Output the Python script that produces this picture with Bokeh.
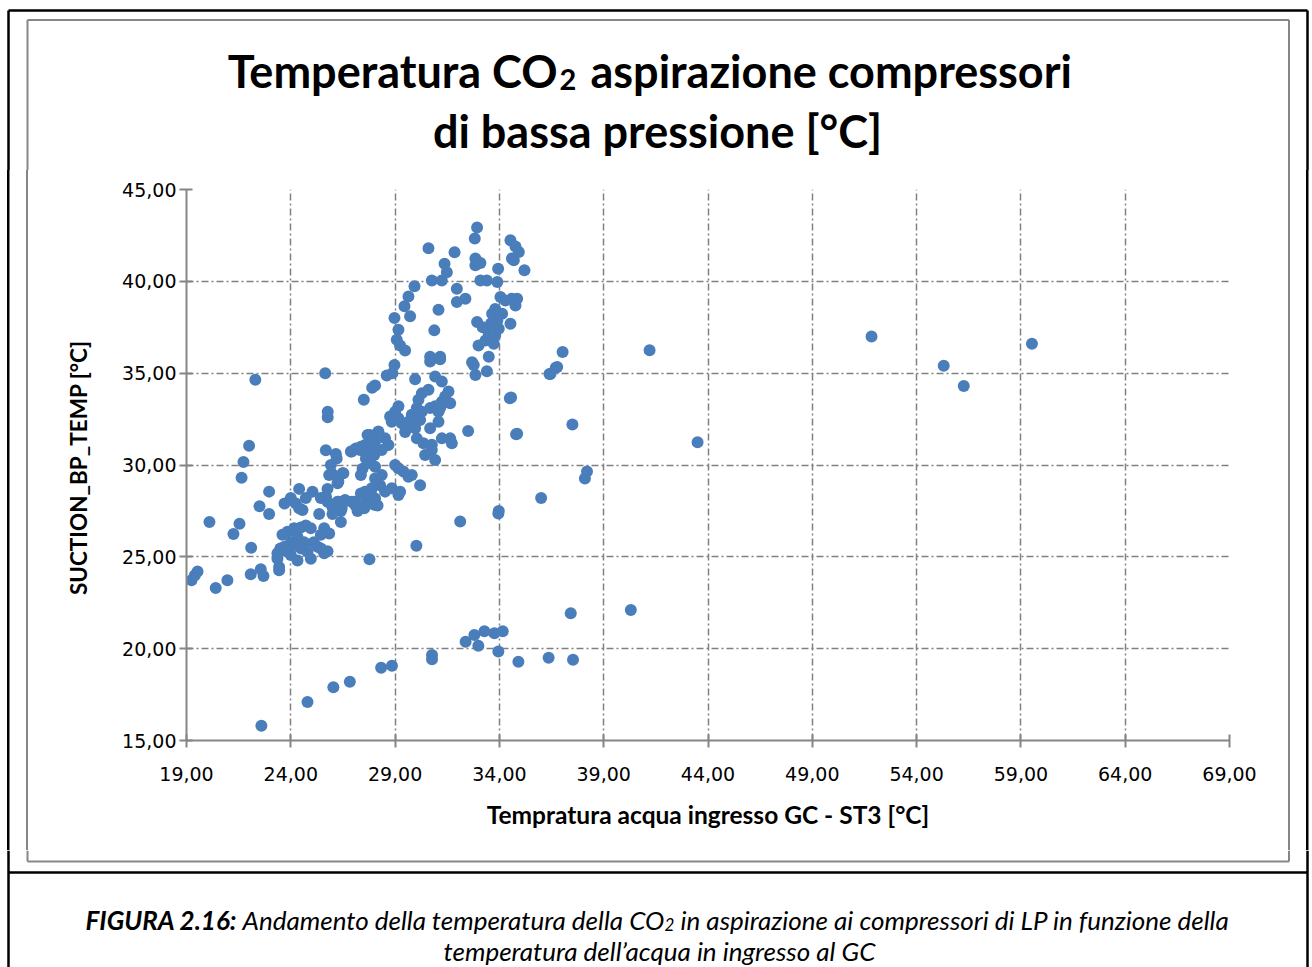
from bokeh.plotting import figure
from bokeh.layouts import column, row
from bokeh.models import Range1d, FixedTicker, CustomJSTickFormatter, ColumnDataSource
from bokeh.core.properties import value
from bokeh.embed import file_html
from bokeh.resources import INLINE

# ---------------- data ----------------
x_ticks = [19, 24, 29, 34, 39, 44, 49, 54, 59, 64, 69]
y_ticks = [15, 20, 25, 30, 35, 40, 45]

# lower-left part of the main band
band_low_x = [22.0, 21.73, 21.64, 22.96, 22.5, 22.96, 20.1, 21.54, 21.25, 22.1, 19.53, 19.4, 19.24,
              20.4, 20.96, 22.08, 22.56, 22.69, 23.44, 23.44, 23.36, 23.36, 23.5, 23.6, 23.84, 24.16,
              24.32, 24.48, 24.72, 24.96, 24.0, 24.24, 24.64, 25.1, 25.28, 25.44, 25.6, 25.84, 25.6,
              25.76, 24.32, 23.7, 23.84, 24.0, 24.5, 24.8, 24.96, 25.44, 23.7, 24.0, 24.4, 24.24, 24.56,
              24.72, 25.04, 24.4, 25.44, 25.68, 25.76, 25.84, 25.92, 25.76, 26.0, 26.0, 26.24, 26.48,
              26.4, 26.4, 26.24, 25.36, 25.68, 26.16, 27.77, 27.2, 22.3, 25.65, 25.77, 25.77,
              26.56, 27.04, 27.36, 27.52, 27.68, 27.84, 28.0, 28.16, 27.36, 27.44, 27.36, 26.88, 27.12,
              27.36, 27.6, 27.76, 27.84, 27.68, 27.84, 28.0, 28.16]
band_low_y = [31.05, 30.16, 29.3, 28.55, 27.76, 27.33, 26.9, 26.8, 26.24, 25.5, 24.2, 24.0, 23.73,
              23.3, 23.73, 24.05, 24.33, 23.96, 24.45, 24.27, 24.9, 25.2, 25.45, 26.2, 26.36, 26.55,
              26.1, 26.6, 26.7, 26.55, 25.8, 25.6, 25.8, 25.8, 25.55, 26.2, 26.55, 26.27, 25.2,
              25.3, 24.8, 25.55, 25.27, 25.1, 25.45, 25.27, 24.9, 25.45, 27.9, 28.2, 28.7, 27.9, 27.55,
              28.2, 28.55, 27.64, 28.2, 28.3, 28.7, 29.45, 30.0, 28.0, 27.7, 27.33, 28.0, 29.55,
              27.5, 26.9, 29.0, 27.33, 30.8, 30.6, 24.87, 27.5, 34.64, 35.0, 32.9, 32.6,
              28.0, 28.0, 27.8, 27.64, 28.2, 28.45, 28.0, 27.8, 29.45, 29.8, 28.45, 30.73, 30.9,
              31.0, 30.36, 30.64, 30.09, 31.64, 31.27, 30.55, 30.82]

# middle part of the main band
band_mid_x = [30.68, 31.16, 28.97, 28.6, 28.87, 28.04, 27.9, 27.5, 29.96, 32.77, 32.85, 33.4,
              34.56, 34.85, 32.5, 33.97,
              31.56, 31.64, 31.4, 30.92, 31.24, 30.6, 30.28, 30.12, 30.04, 30.28, 29.8, 29.64, 29.88,
              30.2, 30.68, 30.92, 31.16, 31.24, 31.08,
              29.16, 29.0, 28.76, 28.84, 29.16, 29.32, 29.56, 29.96, 30.04, 29.48,
              30.68, 31.08, 30.76, 31.24, 31.64, 31.72, 30.44, 30.76, 30.92, 30.36,
              27.8, 28.2, 28.52, 28.04, 28.36, 28.68, 27.88, 27.56, 27.32, 26.92, 27.72,
              29.0, 29.16, 29.4, 29.64, 29.8, 30.2,
              28.04, 28.36, 28.04, 28.28, 27.88, 27.56, 27.72, 28.04, 28.84, 29.16, 29.24, 28.52,
              26.92, 26.6, 26.28, 26.44, 27.08, 27.4, 27.8, 28.04,
              26.2, 26.52, 26.28, 25.96]
band_mid_y = [35.64, 35.76, 35.45, 34.87, 35.0, 34.33, 34.2, 33.55, 34.67, 35.45, 34.9, 35.1,
              33.67, 31.7, 31.85, 27.5,
              34.0, 33.36, 33.73, 34.82, 34.55, 34.1, 33.9, 33.55, 33.1, 32.9, 32.73, 32.36, 32.18,
              32.45, 33.1, 33.2, 33.1, 33.45, 32.9,
              33.2, 32.9, 32.64, 32.36, 32.55, 32.27, 32.0, 32.0, 31.45, 31.8,
              32.0, 32.36, 31.1, 31.45, 31.45, 31.18, 30.55, 30.82, 30.27, 31.18,
              31.64, 31.82, 31.45, 31.27, 30.82, 31.09, 30.9, 31.09, 30.82, 30.73, 30.45,
              30.0, 29.82, 29.64, 29.36, 29.45, 28.9,
              29.9, 29.45, 29.27, 28.9, 28.73, 28.55, 28.18, 28.18, 28.73, 28.36, 28.55, 28.55,
              28.0, 28.1, 28.0, 27.64, 27.82, 27.82, 27.9, 27.82,
              30.36, 29.55, 29.1, 29.55]

# upper part of the main band
band_high_x = [32.93, 32.82, 30.6, 31.85, 31.37, 31.48, 30.76, 31.24, 31.96, 32.37, 31.96, 32.85,
               33.09, 32.85, 33.94, 33.09, 33.4, 33.9, 34.53, 34.77, 34.93, 34.6, 34.69, 35.2,
               29.93, 29.64, 29.45, 29.72, 28.97, 29.16, 29.08, 29.24, 29.48, 31.08, 30.88, 32.93,
               30.68, 31.16, 32.69,
               34.05, 34.29, 34.6, 34.85, 34.77, 33.8, 33.65, 33.9, 34.13, 34.53, 33.97, 33.8, 33.49,
               33.33, 33.0, 33.73, 33.49, 33.2, 33.6]
band_high_y = [42.93, 42.33, 41.8, 41.58, 40.96, 40.5, 40.05, 40.05, 39.6, 39.05, 38.87, 41.24,
               41.0, 40.87, 40.69, 40.05, 40.05, 39.96, 42.24, 41.9, 41.6, 41.24, 41.15, 40.6,
               39.73, 39.18, 38.64, 38.1, 38.0, 37.36, 36.82, 36.5, 36.24, 38.45, 37.33, 37.78,
               35.9, 35.9, 35.6,
               39.15, 38.96, 39.05, 39.05, 38.69, 38.5, 38.24, 37.87, 38.24, 37.69, 37.42, 37.05, 37.15,
               36.78, 36.5, 36.6, 35.9, 37.5, 37.7]

# lower branch and scattered points
lower_x = [22.59, 24.8, 26.04, 26.83, 28.33, 28.85, 30.77, 30.77, 32.38, 32.8, 32.99, 33.28,
           33.76, 34.16, 33.95, 34.91, 36.36, 37.53, 37.42, 40.3, 30.02, 32.12, 33.95]
lower_y = [15.8, 17.1, 17.9, 18.2, 18.96, 19.07, 19.65, 19.42, 20.38, 20.75, 20.16, 20.95,
           20.84, 20.95, 19.85, 19.29, 19.51, 19.4, 21.93, 22.1, 25.6, 26.93, 27.36]

outlier_x = [51.84, 59.53, 55.3, 56.26, 41.2, 43.5, 37.03, 36.7, 36.4, 36.45, 36.77,
             34.5, 34.8, 37.5, 38.2, 38.1, 36.0]
outlier_y = [37.0, 36.6, 35.4, 34.3, 36.25, 31.24, 36.15, 35.3, 34.95, 34.95, 35.34,
             33.64, 31.67, 32.2, 29.64, 29.27, 28.2]

xs = band_low_x + band_mid_x + band_high_x + lower_x + outlier_x
ys = band_low_y + band_mid_y + band_high_y + lower_y + outlier_y

TITLE_1A = "Temperatura CO"
TITLE_1B = "aspirazione compressori"
TITLE_2 = "di bassa pressione [°C]"
X_LABEL = "Tempratura acqua ingresso GC - ST3 [°C]"
Y_LABEL = "SUCTION_BP_TEMP  [°C]"
CAP_BOLD = "FIGURA 2.16:"
CAP_1A = "Andamento della temperatura della CO"
CAP_1B = "in aspirazione ai compressori di LP in funzione della"
CAP_2 = "temperatura dell\u2019acqua in ingresso al GC"

BLACK = "black"
GREY = "#868686"

# ---------------- layout geometry (page pixels) ----------------
W = 1312
TOP_H = 170
MID_H = 680
BOT_H = 967 - TOP_H - MID_H


def deco(w, h):
    f = figure(width=w, height=h, output_backend="svg", toolbar_location=None,
               x_range=Range1d(0, w), y_range=Range1d(h, 0),
               x_axis_type=None, y_axis_type=None, min_border=0)
    f.outline_line_color = None
    f.background_fill_color = "white"
    f.border_fill_color = "white"
    f.xgrid.visible = False
    f.ygrid.visible = False
    return f


def seg(f, x0, y0, x1, y1, color, width):
    f.segment(x0=[x0], y0=[y0], x1=[x1], y1=[y1], line_color=color, line_width=width)


def txt(f, text, x, y, size, style, align="left", font="Lato"):
    f.text(x=[x], y=[y], text=[text], text_font=value(font), text_font_size=value(size),
           text_font_style=value(style), text_align=value(align),
           text_baseline=value("alphabetic"), text_color=BLACK)


# ---- top part: outer frame, chart box, title
top = deco(W, TOP_H)
seg(top, 8, 10, 1307, 10, BLACK, 2.5)
seg(top, 8, 10, 8, TOP_H, BLACK, 2.5)
seg(top, 1307, 10, 1307, TOP_H, BLACK, 2.5)
seg(top, 27, 19.5, 1288.5, 19.5, GREY, 2)
seg(top, 27, 19.5, 27, TOP_H, GREY, 2)
seg(top, 1288.5, 19.5, 1288.5, TOP_H, GREY, 2)
txt(top, TITLE_1A, 557, 70, "45px", "bold", "right")
txt(top, "2", 559, 79, "29px", "bold")
txt(top, TITLE_1B, 590, 70, "45px", "bold")
txt(top, TITLE_2, 657, 130, "45px", "bold", "center")

# ---- chart (full width; the vertical frame lines beside it are CSS backgrounds)
p = figure(width=W, height=MID_H, output_backend="svg", toolbar_location=None,
           x_range=Range1d(19, 69), y_range=Range1d(15, 45),
           min_border_left=186, min_border_right=83, min_border_top=19, min_border_bottom=110)
p.outline_line_color = None
p.background_fill_color = "white"
p.border_fill_color = None
p.styles = {
    "background-color": "white",
    "background-image": "linear-gradient(#000,#000), linear-gradient(#868686,#868686), "
                        "linear-gradient(#868686,#868686), linear-gradient(#000,#000)",
    "background-position": "6.75px 0px, 26px 0px, 1287.5px 0px, 1305.75px 0px",
    "background-size": "2.5px 100%, 2px 100%, 2px 100%, 2.5px 100%",
    "background-repeat": "no-repeat",
}

src = ColumnDataSource(dict(x=xs, y=ys))
p.scatter("x", "y", source=src, size=12, fill_color="#4A7EBB", line_color=None)

fmt = CustomJSTickFormatter(code="return tick.toFixed(2).replace('.', ',');")
for ax, ticks in ((p.xaxis, x_ticks), (p.yaxis, y_ticks)):
    ax.ticker = FixedTicker(ticks=ticks)
    ax.formatter = fmt
    ax.minor_tick_line_color = None
    ax.axis_line_color = GREY
    ax.axis_line_width = 2
    ax.major_tick_line_color = GREY
    ax.major_tick_line_width = 2
    ax.major_tick_in = 6
    ax.major_tick_out = 7
    ax.major_label_text_font = "DejaVu Sans"
    ax.major_label_text_font_size = "19px"
    ax.major_label_text_color = BLACK
    ax.axis_label_text_font = "Lato"
    ax.axis_label_text_font_style = "bold"
    ax.axis_label_text_color = BLACK

p.xaxis.axis_label = X_LABEL
p.yaxis.axis_label = Y_LABEL
p.xaxis.axis_label_text_font_size = "24.5px"
p.yaxis.axis_label_text_font_size = "22.5px"
p.xaxis.major_label_standoff = 19
p.yaxis.major_label_standoff = 3
p.xaxis.axis_label_standoff = 16
p.yaxis.axis_label_standoff = 27

for g in (p.xgrid, p.ygrid):
    g.grid_line_color = "#808080"
    g.grid_line_width = 1.5
    g.grid_line_dash = "7 3 2 3"

# ---- bottom part: chart box bottom, separator, caption
bot = deco(W, BOT_H)
off = TOP_H + MID_H
seg(bot, 8, 0, 8, BOT_H, BLACK, 2.5)
seg(bot, 1307, 0, 1307, BOT_H, BLACK, 2.5)
seg(bot, 27, 0, 27, 861 - off, GREY, 2)
seg(bot, 1288.5, 0, 1288.5, 861 - off, GREY, 2)
seg(bot, 27, 861 - off, 1288.5, 861 - off, GREY, 2)
seg(bot, 8, 872 - off, 1307, 872 - off, BLACK, 2.5)
txt(bot, CAP_BOLD, 85, 919 - off, "26px", "bold italic")
txt(bot, CAP_1A, 242, 919 - off, "26px", "italic")
txt(bot, "2", 664, 924 - off, "17px", "italic")
txt(bot, CAP_1B, 680, 919 - off, "26px", "italic")
txt(bot, CAP_2, 659, 950 - off, "26px", "italic", "center")

layout = column(top, row(p, spacing=0), bot, spacing=0)

open("out.html", "w").write(file_html(layout, INLINE))
